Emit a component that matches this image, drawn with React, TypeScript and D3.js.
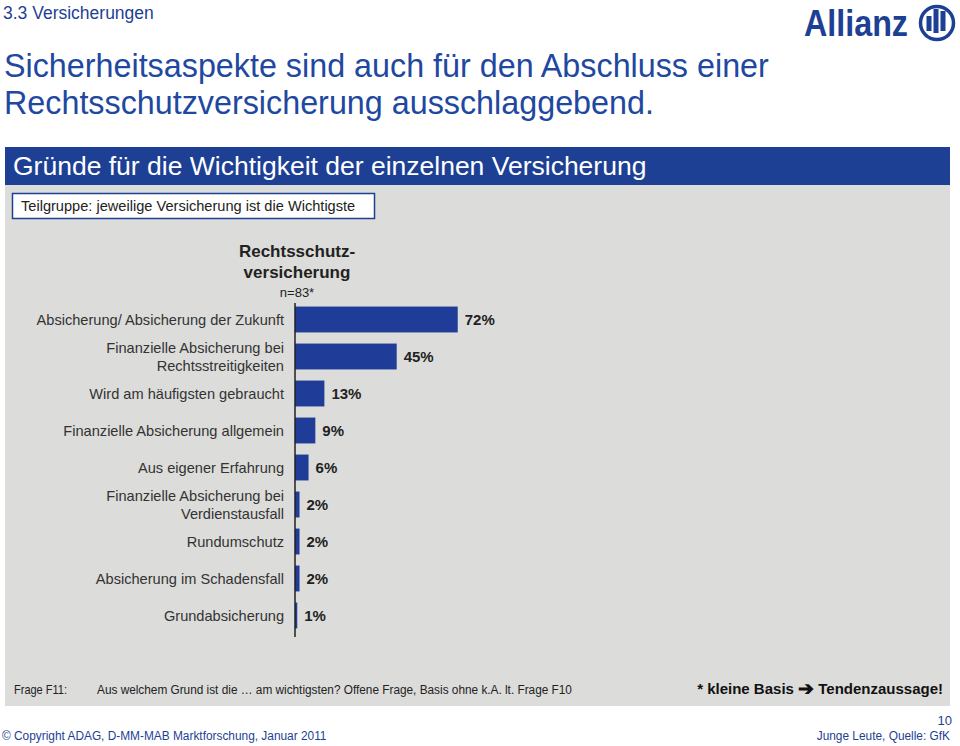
import * as d3 from 'd3';
import { type FC, useEffect, useRef } from 'react';

// Reasons (one or two label lines each) and shares in percent
const categories: string[][] = [
  ['Absicherung/ Absicherung der Zukunft'],
  ['Finanzielle Absicherung bei', 'Rechtsstreitigkeiten'],
  ['Wird am häufigsten gebraucht'],
  ['Finanzielle Absicherung allgemein'],
  ['Aus eigener Erfahrung'],
  ['Finanzielle Absicherung bei', 'Verdienstausfall'],
  ['Rundumschutz'],
  ['Absicherung im Schadensfall'],
  ['Grundabsicherung'],
];
const values: number[] = [72, 45, 13, 9, 6, 2, 2, 2, 1];

const titleLines = [
  'Sicherheitsaspekte sind auch für den Abschluss einer',
  'Rechtsschutzversicherung ausschlaggebend.',
];
const seriesHeader = ['Rechtsschutz-', 'versicherung'];

const BLUE = '#1d3f94';
const FONT = '"Liberation Sans", Arial, Helvetica, sans-serif';

const App: FC = () => {
  const svgRef = useRef<SVGSVGElement>(null);

  useEffect(() => {
    if (!svgRef.current) return;
    const svg = d3.select(svgRef.current);
    svg.selectAll('*').remove();

    // page header
    svg.append('text')
      .attr('x', 3).attr('y', 19)
      .attr('fill', BLUE).attr('font-size', 17.5)
      .text('3.3 Versicherungen');

    svg.selectAll('.title')
      .data(titleLines)
      .join('text')
      .attr('class', 'title')
      .attr('x', 4)
      .attr('y', (_, i) => 77 + i * 37)
      .attr('fill', '#2148a0')
      .attr('font-size', 32.3)
      .text((d) => d);

    // Allianz logo
    const logo = svg.append('g');
    logo.append('text')
      .attr('x', 804).attr('y', 36)
      .attr('fill', BLUE)
      .attr('font-size', 36)
      .attr('font-weight', 'bold')
      .attr('textLength', 104)
      .attr('lengthAdjust', 'spacingAndGlyphs')
      .text('Allianz');
    logo.append('circle')
      .attr('cx', 937).attr('cy', 23).attr('r', 16.5)
      .attr('fill', 'none').attr('stroke', BLUE).attr('stroke-width', 3.5);
    [[929, 16, 31], [936, 9, 33], [943, 11, 31]].forEach(([x, y0, y1]) => {
      logo.append('rect')
        .attr('x', x - 2.5).attr('y', y0).attr('width', 5).attr('height', y1 - y0)
        .attr('fill', BLUE);
    });

    // banner + panel
    svg.append('rect')
      .attr('x', 5).attr('y', 147).attr('width', 945).attr('height', 38)
      .attr('fill', BLUE);
    svg.append('text')
      .attr('x', 13).attr('y', 175)
      .attr('fill', '#fff').attr('font-size', 26.5)
      .text('Gründe für die Wichtigkeit der einzelnen Versicherung');
    svg.append('rect')
      .attr('x', 5).attr('y', 185).attr('width', 945).attr('height', 521)
      .attr('fill', '#dcdcda');
    svg.append('rect')
      .attr('x', 12.5).attr('y', 193.5).attr('width', 362).attr('height', 25)
      .attr('fill', '#fff').attr('stroke', BLUE).attr('stroke-width', 1.5);
    svg.append('text')
      .attr('x', 21).attr('y', 211)
      .attr('fill', '#222').attr('font-size', 14.6)
      .text('Teilgruppe: jeweilige Versicherung ist die Wichtigste');

    // series header
    svg.selectAll('.shead')
      .data(seriesHeader)
      .join('text')
      .attr('class', 'shead')
      .attr('x', 297)
      .attr('y', (_, i) => 257 + i * 21)
      .attr('text-anchor', 'middle')
      .attr('fill', '#222')
      .attr('font-size', 17)
      .attr('font-weight', 'bold')
      .text((d) => d);
    svg.append('text')
      .attr('x', 297).attr('y', 297)
      .attr('text-anchor', 'middle')
      .attr('fill', '#222').attr('font-size', 13)
      .text('n=83*');

    // scales
    const keys = categories.map((c) => c.join(' '));
    const x = d3.scaleLinear().domain([0, 100]).range([295, 521]);
    const y = d3.scaleBand().domain(keys).range([301, 634]).paddingInner(0.3).paddingOuter(0.15);

    const g = svg.append('g');

    g.selectAll('rect.bar')
      .data(values)
      .join('rect')
      .attr('class', 'bar')
      .attr('x', x(0))
      .attr('y', (_, i) => y(keys[i]) || 0)
      .attr('width', (d) => x(d) - x(0))
      .attr('height', y.bandwidth())
      .attr('fill', '#1f3d98');

    g.append('line')
      .attr('x1', x(0)).attr('x2', x(0))
      .attr('y1', 303).attr('y2', 637)
      .attr('stroke', '#222').attr('stroke-width', 1.5);

    g.selectAll('text.value')
      .data(values)
      .join('text')
      .attr('class', 'value')
      .attr('x', (d) => x(d) + 7)
      .attr('y', (_, i) => (y(keys[i]) || 0) + y.bandwidth() / 2)
      .attr('dy', '0.35em')
      .attr('fill', '#222')
      .attr('font-size', 15)
      .attr('font-weight', 'bold')
      .text((d) => `${d}%`);

    // category labels
    const lab = g.selectAll('g.cat')
      .data(categories)
      .join('g')
      .attr('class', 'cat')
      .attr('transform', (_, i) => `translate(284,${(y(keys[i]) || 0) + y.bandwidth() / 2})`);
    lab.selectAll('text')
      .data((d) => d.map((t, j) => ({ t, off: (j - (d.length - 1) / 2) * 18 })))
      .join('text')
      .attr('y', (d) => d.off)
      .attr('dy', '0.35em')
      .attr('text-anchor', 'end')
      .attr('fill', '#333')
      .attr('font-size', 14.6)
      .text((d) => d.t);

    // footnotes (condensed by horizontal scaling)
    svg.append('text')
      .attr('transform', 'translate(14,694) scale(0.88,1)')
      .attr('fill', '#222').attr('font-size', 12.5)
      .text('Frage F11:');
    svg.append('text')
      .attr('transform', 'translate(97,694) scale(0.945,1)')
      .attr('fill', '#222').attr('font-size', 12.5)
      .text('Aus welchem Grund ist die … am wichtigsten? Offene Frage, Basis ohne k.A. lt. Frage F10');
    const note = svg.append('text')
      .attr('x', 943).attr('y', 694)
      .attr('text-anchor', 'end')
      .attr('fill', '#111').attr('font-size', 15)
      .attr('font-weight', 'bold');
    note.append('tspan').text('* kleine Basis ');
    note.append('tspan').attr('font-size', 19).attr('dy', 1).text('➔');
    note.append('tspan').attr('dy', -1).text(' Tendenzaussage!');

    svg.append('text')
      .attr('transform', 'translate(2,740) scale(0.88,1)')
      .attr('fill', BLUE).attr('font-size', 13.5)
      .text('© Copyright ADAG, D-MM-MAB Marktforschung, Januar 2011');
    svg.append('text')
      .attr('x', 952).attr('y', 725)
      .attr('text-anchor', 'end')
      .attr('fill', BLUE).attr('font-size', 13)
      .text('10');
    svg.append('text')
      .attr('transform', 'translate(950,740) scale(0.88,1)')
      .attr('text-anchor', 'end')
      .attr('fill', BLUE).attr('font-size', 13.5)
      .text('Junge Leute, Quelle: GfK');
  }, []);

  return (
    <svg
      ref={svgRef}
      width={960}
      height={746}
      style={{ position: 'absolute', left: 0, top: 0, background: '#fff', fontFamily: FONT }}
    />
  );
};

export default App;
